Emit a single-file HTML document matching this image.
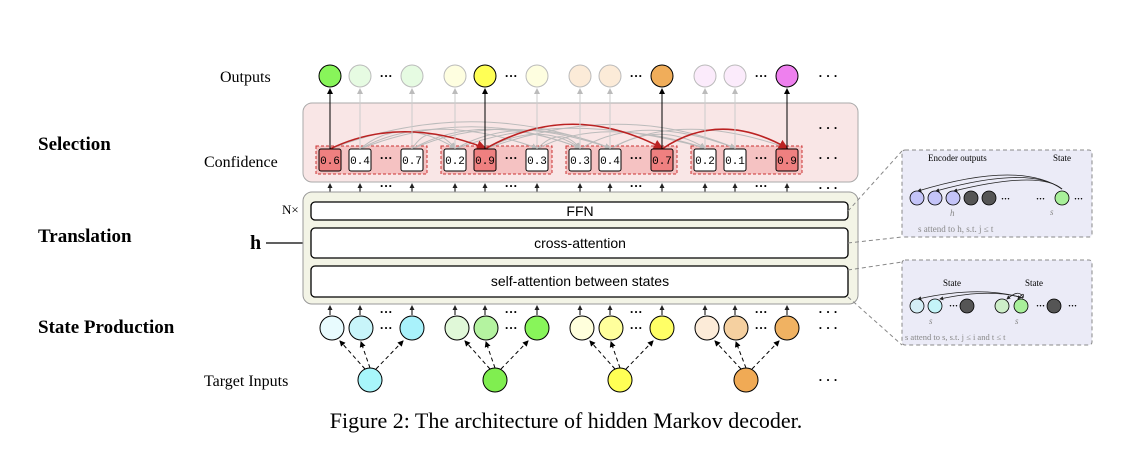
<!DOCTYPE html>
<html><head><meta charset="utf-8"><style>
body{margin:0;background:#fff;}
svg text{font-family:"Liberation Serif",serif;}
svg .mono text{font-family:"Liberation Mono",monospace;}
svg .sans text{font-family:"Liberation Sans",sans-serif;}
</style></head><body>
<svg width="1144" height="452" viewBox="0 0 1144 452" xmlns="http://www.w3.org/2000/svg">
<defs>
<marker id="ab" markerWidth="6" markerHeight="6" refX="5" refY="3" orient="auto"><path d="M0,0L6,3L0,6z" fill="#000"/></marker>
<marker id="ag" markerWidth="6" markerHeight="6" refX="5" refY="3" orient="auto"><path d="M0,0L6,3L0,6z" fill="#bbb"/></marker>
<marker id="ar" markerWidth="6" markerHeight="6" refX="5" refY="3" orient="auto"><path d="M0,0L6,3L0,6z" fill="#b22"/></marker>
<marker id="as" markerWidth="5" markerHeight="5" refX="4" refY="2.5" orient="auto"><path d="M0,0L5,2.5L0,5z" fill="#222"/></marker>
</defs>
<text x="220" y="82" font-size="16">Outputs</text>
<text x="38" y="150" font-size="19" font-weight="bold">Selection</text>
<text x="204" y="167" font-size="16">Confidence</text>
<text x="38" y="242" font-size="19" font-weight="bold">Translation</text>
<text x="250" y="249" font-size="20" font-weight="bold">h</text>
<line x1="266" y1="243" x2="309" y2="243" stroke="#000" stroke-width="1.2" marker-end="url(#ab)"/>
<text x="282" y="214" font-size="13">N×</text>
<text x="38" y="333" font-size="19" font-weight="bold">State Production</text>
<text x="204" y="386" font-size="16">Target Inputs</text>
<text x="566" y="428" font-size="22" text-anchor="middle">Figure 2: The architecture of hidden Markov decoder.</text>

<rect x="303" y="103" width="555" height="79" rx="9" fill="#f9e6e6" stroke="#aaa"/>
<g fill="#f5c2c2" stroke="#c33" stroke-dasharray="3,2" stroke-width="1">
<rect x="316" y="146" width="111" height="28"/><rect x="441" y="146" width="111" height="28"/>
<rect x="566" y="146" width="111" height="28"/><rect x="691" y="146" width="111" height="28"/>
</g>
<g fill="none" stroke="#bbb" stroke-width="1" marker-end="url(#ag)">
<path d="M360,149 Q400,115 455,148"/><path d="M360,149 Q430,110 537,148"/><path d="M360,149 Q470,105 580,148"/>
<path d="M412,149 Q430,120 455,148"/><path d="M412,149 Q480,110 580,148"/><path d="M412,149 Q500,110 610,148"/>
<path d="M455,149 Q520,112 610,148"/><path d="M455,149 Q560,108 705,148"/>
<path d="M537,149 Q560,125 580,148"/><path d="M537,149 Q600,115 705,148"/>
<path d="M580,149 Q640,112 735,148"/><path d="M610,149 Q680,110 787,148"/><path d="M610,149 Q660,120 705,148"/>
<path d="M330,149 Q470,95 610,148"/><path d="M485,149 Q620,100 735,148"/><path d="M485,149 Q540,120 580,148"/>
</g>
<g fill="none" stroke="#b22" stroke-width="1.6" marker-end="url(#ar)">
<path d="M330,149 Q400,115 485,148"/><path d="M485,149 Q570,100 662,148"/><path d="M662,149 Q720,110 787,148"/>
</g>
<g stroke="#000" stroke-width="1">
<rect x="319" y="149" width="22" height="22" rx="2" fill="#ef8080"/><rect x="349" y="149" width="22" height="22" rx="2" fill="#fff"/><rect x="401" y="149" width="22" height="22" rx="2" fill="#fff"/>
<rect x="444" y="149" width="22" height="22" rx="2" fill="#fff"/><rect x="474" y="149" width="22" height="22" rx="2" fill="#ef8080"/><rect x="526" y="149" width="22" height="22" rx="2" fill="#fff"/>
<rect x="569" y="149" width="22" height="22" rx="2" fill="#fff"/><rect x="599" y="149" width="22" height="22" rx="2" fill="#fff"/><rect x="651" y="149" width="22" height="22" rx="2" fill="#ef8080"/>
<rect x="694" y="149" width="22" height="22" rx="2" fill="#fff"/><rect x="724" y="149" width="22" height="22" rx="2" fill="#fff"/><rect x="776" y="149" width="22" height="22" rx="2" fill="#ef8080"/>
</g>
<g class="mono" font-size="11" text-anchor="middle" fill="#000">
<text x="330" y="164" style="font-family:'Liberation Mono',monospace">0.6</text><text x="360" y="164" style="font-family:'Liberation Mono',monospace">0.4</text><text x="412" y="164" style="font-family:'Liberation Mono',monospace">0.7</text>
<text x="455" y="164" style="font-family:'Liberation Mono',monospace">0.2</text><text x="485" y="164" style="font-family:'Liberation Mono',monospace">0.9</text><text x="537" y="164" style="font-family:'Liberation Mono',monospace">0.3</text>
<text x="580" y="164" style="font-family:'Liberation Mono',monospace">0.3</text><text x="610" y="164" style="font-family:'Liberation Mono',monospace">0.4</text><text x="662" y="164" style="font-family:'Liberation Mono',monospace">0.7</text>
<text x="705" y="164" style="font-family:'Liberation Mono',monospace">0.2</text><text x="735" y="164" style="font-family:'Liberation Mono',monospace">0.1</text><text x="787" y="164" style="font-family:'Liberation Mono',monospace">0.9</text>
</g>
<g font-size="13" font-weight="bold" text-anchor="middle" fill="#000">
<text x="386" y="162">···</text><text x="511" y="162">···</text><text x="636" y="162">···</text><text x="761" y="162">···</text>
<text x="828" y="162">· · ·</text><text x="828" y="132">· · ·</text><text x="828" y="80">· · ·</text><text x="828" y="192">· · ·</text>
<text x="386" y="80">···</text><text x="511" y="80">···</text><text x="636" y="80">···</text><text x="761" y="80">···</text>
<text x="386" y="190">···</text><text x="511" y="190">···</text><text x="636" y="190">···</text><text x="761" y="190">···</text>
</g>
<g stroke-width="1">
<g stroke="#000" marker-end="url(#ab)"><line x1="330" y1="149" x2="330" y2="89"/><line x1="485" y1="149" x2="485" y2="89"/><line x1="662" y1="149" x2="662" y2="89"/><line x1="787" y1="149" x2="787" y2="89"/></g>
<g stroke="#ccc" marker-end="url(#ag)"><line x1="360" y1="149" x2="360" y2="89"/><line x1="412" y1="149" x2="412" y2="89"/><line x1="455" y1="149" x2="455" y2="89"/><line x1="537" y1="149" x2="537" y2="89"/><line x1="580" y1="149" x2="580" y2="89"/><line x1="610" y1="149" x2="610" y2="89"/><line x1="705" y1="149" x2="705" y2="89"/><line x1="735" y1="149" x2="735" y2="89"/></g>
</g>
<g stroke-width="1">
<circle cx="330" cy="76" r="11" fill="#88f55a" stroke="#000"/><circle cx="360" cy="76" r="11" fill="#e6fbe2" stroke="#bbb"/><circle cx="412" cy="76" r="11" fill="#e6fbe2" stroke="#bbb"/>
<circle cx="455" cy="76" r="11" fill="#fefee0" stroke="#bbb"/><circle cx="485" cy="76" r="11" fill="#ffff55" stroke="#000"/><circle cx="537" cy="76" r="11" fill="#fefee0" stroke="#bbb"/>
<circle cx="580" cy="76" r="11" fill="#fcebd8" stroke="#bbb"/><circle cx="610" cy="76" r="11" fill="#fcebd8" stroke="#bbb"/><circle cx="662" cy="76" r="11" fill="#f0ad5a" stroke="#000"/>
<circle cx="705" cy="76" r="11" fill="#fbebfb" stroke="#bbb"/><circle cx="735" cy="76" r="11" fill="#fbebfb" stroke="#bbb"/><circle cx="787" cy="76" r="11" fill="#ee80ee" stroke="#000"/>
</g>
<g stroke="#000" stroke-width="1" marker-end="url(#as)">
<line x1="330" y1="192" x2="330" y2="184"/><line x1="360" y1="192" x2="360" y2="184"/><line x1="412" y1="192" x2="412" y2="184"/>
<line x1="455" y1="192" x2="455" y2="184"/><line x1="485" y1="192" x2="485" y2="184"/><line x1="537" y1="192" x2="537" y2="184"/>
<line x1="580" y1="192" x2="580" y2="184"/><line x1="610" y1="192" x2="610" y2="184"/><line x1="662" y1="192" x2="662" y2="184"/>
<line x1="705" y1="192" x2="705" y2="184"/><line x1="735" y1="192" x2="735" y2="184"/><line x1="787" y1="192" x2="787" y2="184"/>
</g>
<rect x="303" y="192" width="555" height="112" rx="9" fill="#f3f4e6" stroke="#999"/>
<g fill="#fff" stroke="#000" stroke-width="1.3">
<rect x="311" y="202" width="537" height="18" rx="4"/><rect x="311" y="228" width="537" height="30" rx="4"/><rect x="311" y="266" width="537" height="31" rx="4"/>
</g>
<g class="sans" font-size="14" text-anchor="middle">
<text x="580" y="216" style="font-family:'Liberation Sans',sans-serif">FFN</text>
<text x="580" y="248" style="font-family:'Liberation Sans',sans-serif">cross-attention</text>
<text x="580" y="286" style="font-family:'Liberation Sans',sans-serif">self-attention between states</text>
</g>
<g stroke="#000" stroke-width="1" marker-end="url(#as)">
<line x1="330" y1="315" x2="330" y2="306"/><line x1="360" y1="315" x2="360" y2="306"/><line x1="412" y1="315" x2="412" y2="306"/>
<line x1="455" y1="315" x2="455" y2="306"/><line x1="485" y1="315" x2="485" y2="306"/><line x1="537" y1="315" x2="537" y2="306"/>
<line x1="580" y1="315" x2="580" y2="306"/><line x1="610" y1="315" x2="610" y2="306"/><line x1="662" y1="315" x2="662" y2="306"/>
<line x1="705" y1="315" x2="705" y2="306"/><line x1="735" y1="315" x2="735" y2="306"/><line x1="787" y1="315" x2="787" y2="306"/>
</g>
<g stroke="#000" stroke-width="1" stroke-dasharray="4,3" marker-end="url(#ab)">
<line x1="365" y1="369" x2="340" y2="341"/><line x1="370" y1="368" x2="361" y2="342"/><line x1="376" y1="369" x2="403" y2="341"/>
<line x1="490" y1="369" x2="465" y2="341"/><line x1="495" y1="368" x2="486" y2="342"/><line x1="501" y1="369" x2="528" y2="341"/>
<line x1="615" y1="369" x2="590" y2="341"/><line x1="620" y1="368" x2="611" y2="342"/><line x1="626" y1="369" x2="653" y2="341"/>
<line x1="741" y1="369" x2="715" y2="341"/><line x1="746" y1="368" x2="736" y2="342"/><line x1="752" y1="369" x2="779" y2="341"/>
</g>
<g stroke="#000" stroke-width="1">
<circle cx="332" cy="328" r="12" fill="#e8fbfe"/><circle cx="361" cy="328" r="12" fill="#c8f5fa"/><circle cx="412" cy="328" r="12" fill="#a9f2fb"/>
<circle cx="457" cy="328" r="12" fill="#e0f8d8"/><circle cx="486" cy="328" r="12" fill="#b4f3a0"/><circle cx="537" cy="328" r="12" fill="#88f55a"/>
<circle cx="582" cy="328" r="12" fill="#ffffdc"/><circle cx="611" cy="328" r="12" fill="#ffff9c"/><circle cx="662" cy="328" r="12" fill="#ffff66"/>
<circle cx="707" cy="328" r="12" fill="#fcebd8"/><circle cx="736" cy="328" r="12" fill="#f5d0a0"/><circle cx="787" cy="328" r="12" fill="#f0b262"/>
<circle cx="370" cy="380" r="12" fill="#a8f6fb"/><circle cx="495" cy="380" r="12" fill="#80ee50"/><circle cx="620" cy="380" r="12" fill="#ffff55"/><circle cx="746" cy="380" r="12" fill="#f0aa55"/>
</g>
<g font-size="13" font-weight="bold" text-anchor="middle">
<text x="386" y="316">···</text><text x="511" y="316">···</text><text x="636" y="316">···</text><text x="761" y="316">···</text>
<text x="386" y="332">···</text><text x="511" y="332">···</text><text x="636" y="332">···</text><text x="761" y="332">···</text>
<text x="828" y="316">· · ·</text><text x="828" y="332">· · ·</text><text x="828" y="384">· · ·</text>
</g>
<g stroke="#888" stroke-dasharray="4,3" fill="none"><line x1="848" y1="211" x2="902" y2="151"/><line x1="848" y1="243" x2="902" y2="237"/><line x1="848" y1="270" x2="902" y2="262"/><line x1="848" y1="297" x2="902" y2="345"/></g>
<rect x="902" y="150" width="190" height="87" rx="3" fill="#ebebf7" stroke="#888" stroke-dasharray="4,3"/>
<rect x="902" y="260" width="190" height="85" rx="3" fill="#ebebf7" stroke="#888" stroke-dasharray="4,3"/>
<g font-size="9"><text x="928" y="161">Encoder outputs</text><text x="1053" y="161">State</text>
<text x="943" y="286">State</text><text x="1025" y="286">State</text></g>
<g fill="none" stroke="#222" stroke-width="0.8" marker-end="url(#as)">
<path d="M1062,189 Q1020,160 918,191"/><path d="M1062,189 Q1030,165 936,191"/><path d="M1062,189 Q1040,170 954,191"/>
<path d="M1023,298 Q980,285 918,299"/><path d="M1023,298 Q990,288 940,299"/><path d="M1023,298 Q1020,288 1007,299"/><path d="M1023,298 Q1025,290 1018,299"/>
</g>
<g stroke="#000" stroke-width="0.8">
<circle cx="917" cy="198" r="7" fill="#c4c4f8"/><circle cx="935" cy="198" r="7" fill="#c4c4f8"/><circle cx="953" cy="198" r="7" fill="#c4c4f8"/>
<circle cx="971" cy="198" r="7" fill="#555"/><circle cx="989" cy="198" r="7" fill="#555"/><circle cx="1062" cy="198" r="7" fill="#a8f09a"/>
<circle cx="917" cy="306" r="7" fill="#d4eef6"/><circle cx="935" cy="306" r="7" fill="#c4f4f8"/><circle cx="967" cy="306" r="7" fill="#555"/>
<circle cx="1002" cy="306" r="7" fill="#cdeec8"/><circle cx="1021" cy="306" r="7" fill="#a8f09a"/><circle cx="1054" cy="306" r="7" fill="#555"/>
</g>
<g font-size="9" fill="#888"><text x="950" y="216" font-style="italic">h</text><text x="1050" y="215" font-style="italic">s</text>
<text x="918" y="232">s attend to h,  s.t. j ≤ t</text>
<text x="929" y="324" font-style="italic">s</text><text x="1015" y="324" font-style="italic">s</text>
<text x="905" y="340" font-size="8.5">s attend to s,  s.t. j ≤ i and t ≤ t</text></g>
<g font-size="9" font-weight="bold"><text x="1001" y="202">···</text><text x="1036" y="202">···</text><text x="1074" y="202">···</text>
<text x="949" y="309">···</text><text x="1036" y="309">···</text><text x="1068" y="309">···</text></g>
</svg>
</body></html>
